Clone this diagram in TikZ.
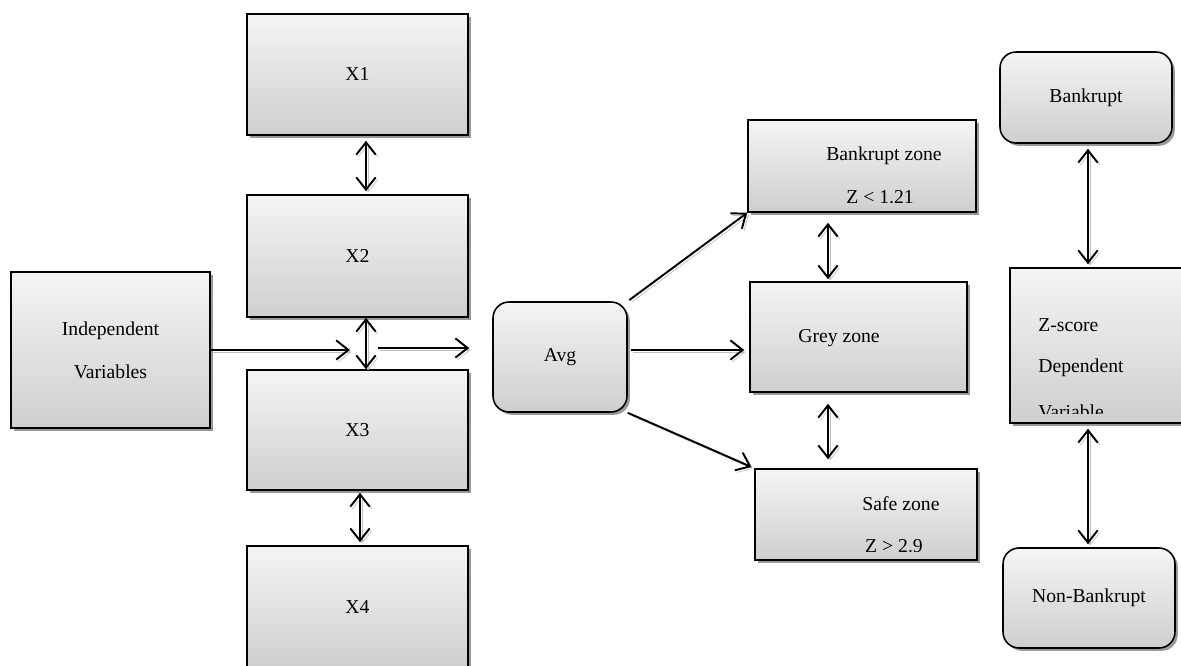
\documentclass[tikz,border=0pt]{standalone}
\usepackage{fontspec}
\setmainfont{Liberation Serif}
\usetikzlibrary{arrows.meta,shadows}

\tikzset{
  box/.style={draw, line width=0.9pt, top color=gray!8, bottom color=gray!38,
    drop shadow={shadow xshift=1.6pt, shadow yshift=-1.6pt, fill=black!40, opacity=1},
    font=\fontsize{11.2}{13.4}\selectfont, align=center, inner sep=0pt},
  rbox/.style={box, rounded corners=0.32cm},
  txt/.style={font=\fontsize{11.2}{13.4}\selectfont, inner sep=0pt},
  lnshadow/.style={preaction={draw=black!25, transform canvas={shift={(1.2pt,-1.2pt)}}}},
  dbl/.style={line width=1.1pt, lnshadow, {Straight Barb[length=7pt,width=11pt]}-{Straight Barb[length=7pt,width=11pt]}},
  sgl/.style={line width=1.1pt, lnshadow, -{Straight Barb[length=7pt,width=11pt]}}
}

\begin{document}
\begin{tikzpicture}[x=0.02cm, y=-0.02cm]
  \useasboundingbox (0,0) rectangle (1181,666);

  \draw (357.5,74.5) node[box, minimum width=4.42cm, minimum height=2.42cm] (xone) {X1};
  \draw (357.5,256) node[box, minimum width=4.42cm, minimum height=2.44cm] (xtwo) {X2};
  \draw (357.5,430) node[box, minimum width=4.42cm, minimum height=2.4cm] (xthree) {X3};
  \draw (357.5,607) node[box, minimum width=4.42cm, minimum height=2.44cm] (xfour) {X4};
  \draw (110.5,350) node[box, minimum width=3.98cm, minimum height=3.12cm] (indep) {Independent\\[11pt]Variables};
  \draw (560,357) node[rbox, minimum width=2.68cm, minimum height=2.2cm] (avg) {Avg};

  \draw (862,166) node[box, minimum width=4.56cm, minimum height=1.84cm] (bzone) {};
  \draw (858.5,337) node[box, minimum width=4.34cm, minimum height=2.2cm] (grey) {};
  \draw (866,514.5) node[box, minimum width=4.44cm, minimum height=1.82cm] (safe) {};
  \draw (1086,97.5) node[rbox, minimum width=3.44cm, minimum height=1.82cm] (bankrupt) {Bankrupt};
  \draw (1103.5,345.5) node[box, minimum width=3.73cm, minimum height=3.1cm] (zscore) {};
  \draw (1089,598) node[rbox, minimum width=3.44cm, minimum height=2.0cm] (nonbank) {Non-Bankrupt};

  % texts of the zone boxes
  \begin{scope}
    \clip (750,122) rectangle (976,202);
    \node[txt] (bztext) at (884,156) {Bankrupt zone};
    \node[txt] (bzval) at (880,197) {Z < 1.21};
  \end{scope}
  \node[txt] (greytext) at (839,338) {Grey zone};
  \begin{scope}
    \clip (757,471) rectangle (977,551);
    \node[txt] (safetext) at (901,504) {Safe zone};
    \node[txt] (safeval) at (894,546) {Z > 2.9};
  \end{scope}
  \begin{scope}
    \clip (1019,270) rectangle (1181,413);
    \node[txt, anchor=west] (zstext) at (1038,325) {Z-score};
    \node[txt, anchor=west] (deptext) at (1038,368) {Dependent};
    \node[txt, anchor=west] (vartext) at (1038,412) {Variable};
  \end{scope}

  \coordinate (mid) at (366,350);

  \draw[dbl, shorten <=0.1cm, shorten >=0.06cm] ([xshift=0.17cm]xone.south) -- ([xshift=0.17cm]xtwo.north);
  \draw[dbl] ([xshift=0.17cm]xtwo.south) -- ([xshift=0.17cm]xthree.north);
  \draw[dbl, shorten <=0.04cm, shorten >=0.06cm] ([xshift=0.05cm]xthree.south) -- ([xshift=0.05cm]xfour.north);
  \draw[sgl, shorten >=0.32cm] (indep.east) -- (mid);
  \draw[sgl, shorten <=0.24cm, shorten >=0.46cm] ([yshift=0.04cm]mid) -- ([yshift=0.04cm]mid -| avg.west);

  \draw[sgl, shorten <=0.04cm] (avg.north east) -- (bzone.south west);
  \draw[sgl, shorten <=0.06cm, shorten >=0.1cm] ([yshift=0.14cm]avg.east) -- ([yshift=0.14cm]avg.east -| grey.west);
  \draw[sgl, shorten >=0.06cm] (avg.south east) -- (safe.north west);

  \draw[dbl, shorten <=0.2cm, shorten >=0.04cm] ([xshift=-0.68cm]bzone.south) -- ([xshift=-0.68cm]bzone.south |- grey.north);
  \draw[dbl, shorten <=0.22cm, shorten >=0.18cm] ([xshift=-0.61cm]grey.south) -- ([xshift=-0.61cm]grey.south |- safe.north);

  \draw[dbl, shorten <=0.1cm, shorten >=0.06cm] ([xshift=0.04cm]bankrupt.south) -- ([xshift=0.04cm]bankrupt.south |- zscore.north);
  \draw[dbl, shorten <=0.1cm, shorten >=0.06cm] ([xshift=-0.02cm]nonbank.north |- zscore.south) -- ([xshift=-0.02cm]nonbank.north);
\end{tikzpicture}
\end{document}
